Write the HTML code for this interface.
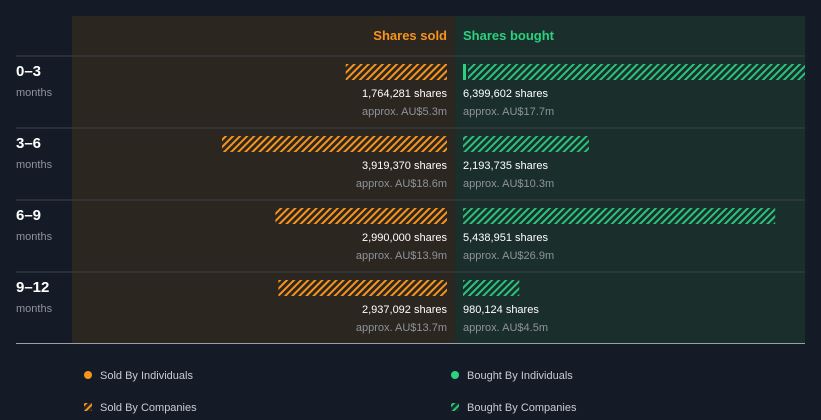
<!DOCTYPE html>
<html><head><meta charset="utf-8"><style>
html,body{margin:0;padding:0;background:#151b26;}
svg{display:block;font-family:"Liberation Sans",sans-serif;}
</style></head><body>
<svg id="chart" width="821" height="420" xmlns="http://www.w3.org/2000/svg">
<defs>
<pattern id="hatchO" patternUnits="userSpaceOnUse" width="5" height="5" patternTransform="rotate(45)"><rect width="5" height="5" fill="#2b2620"/><rect width="2" height="5" fill="#f7941d"/></pattern>
<pattern id="hatchG" patternUnits="userSpaceOnUse" width="5" height="5" patternTransform="rotate(45)"><rect width="5" height="5" fill="#1a2e2c"/><rect width="2" height="5" fill="#2bc27d"/></pattern>
<clipPath id="clipR"><rect x="455" y="16" width="350" height="330"/></clipPath>
</defs>
<rect x="0" y="0" width="821" height="420" fill="#151b26"/>
<rect x="72" y="16" width="383" height="328" fill="#2b2620"/>
<rect x="455" y="16" width="350" height="328" fill="#1a2e2c"/>
<text x="447" y="40" text-anchor="end" font-size="13" font-weight="bold" fill="#f7941d">Shares sold</text>
<text x="463" y="40" font-size="13" font-weight="bold" fill="#2bd17e">Shares bought</text>
<g id="rows"></g>
<g>
<circle cx="88" cy="375" r="4" fill="#f7941d"/>
<text x="100" y="379" font-size="11" fill="#c8ccd2">Sold By Individuals</text>
<circle cx="455" cy="375" r="4" fill="#2bd17e"/>
<text x="467" y="379" font-size="11" fill="#c8ccd2">Bought By Individuals</text>
<rect x="84" y="403" width="8" height="8" fill="url(#hatchO)"/>
<text x="100" y="411" font-size="11" fill="#c8ccd2">Sold By Companies</text>
<rect x="451" y="403" width="8" height="8" fill="url(#hatchG)"/>
<text x="467" y="411" font-size="11" fill="#c8ccd2">Bought By Companies</text>
</g>
</svg>
<script>
const periods = ["0–3","3–6","6–9","9–12"];
const soldShares = [1764281,3919370,2990000,2937092];
const boughtShares = [6399602,2193735,5438951,980124];
const boughtIndividuals = [50000,0,0,0];
const soldValue = ["AU$5.3m","AU$18.6m","AU$13.9m","AU$13.7m"];
const boughtValue = ["AU$17.7m","AU$10.3m","AU$26.9m","AU$4.5m"];
const NS="http://www.w3.org/2000/svg";
const g=document.getElementById('rows');
const scale=v=>v*5.74e-5;
const rowY=i=>56+i*72;
function el(tag,attrs,txt){const e=document.createElementNS(NS,tag);for(const k in attrs)e.setAttribute(k,attrs[k]);if(txt!==undefined)e.textContent=txt;g.appendChild(e);return e;}
const fmt=n=>n.toLocaleString('en-US');
periods.forEach((p,i)=>{
 const y=rowY(i);
 const ln=el('line',{x1:16,x2:805,y1:y,y2:y,stroke:'#3d4048','stroke-width':1});
 
 
 const t=el('text',{x:16,y:y+20,'font-size':15,'font-weight':'bold',fill:'#ffffff'},p);
 
 
 const m=el('text',{x:16,y:y+40,'font-size':11,fill:'#8e939b'},'months');
 
 
 const sw=scale(soldShares[i]);
 const sb=el('rect',{x:447-sw,y:y+8,width:sw,height:16,fill:'url(#hatchO)'});
 
 
 const bw=scale(boughtShares[i]);
 const iw=boughtIndividuals[i]>0?Math.max(3,scale(boughtIndividuals[i])):0;
 if(iw>0){const ib=el('rect',{x:463,y:y+8,width:iw,height:16,fill:'#2bd17e'});
 
 }
 const bb=el('rect',{x:463+(iw?iw+2:0),y:y+8,width:Math.max(0,bw-(iw?iw+2:0)),height:16,fill:'url(#hatchG)','clip-path':'url(#clipR)'});
 
 
 const s1=el('text',{x:447,y:y+41,'text-anchor':'end','font-size':11,fill:'#ffffff'},fmt(soldShares[i])+' shares');
 
 
 const s2=el('text',{x:447,y:y+59,'text-anchor':'end','font-size':11,fill:'#8e939b'},'approx. '+soldValue[i]);
 
 
 const b1=el('text',{x:463,y:y+41,'font-size':11,fill:'#ffffff'},fmt(boughtShares[i])+' shares');
 
 
 const b2=el('text',{x:463,y:y+59,'font-size':11,fill:'#8e939b'},'approx. '+boughtValue[i]);
 
 
});
const bl=el('line',{x1:16,x2:805,y1:343.5,y2:343.5,stroke:'#9aa0a8','stroke-width':1});


</script>
</body></html>
